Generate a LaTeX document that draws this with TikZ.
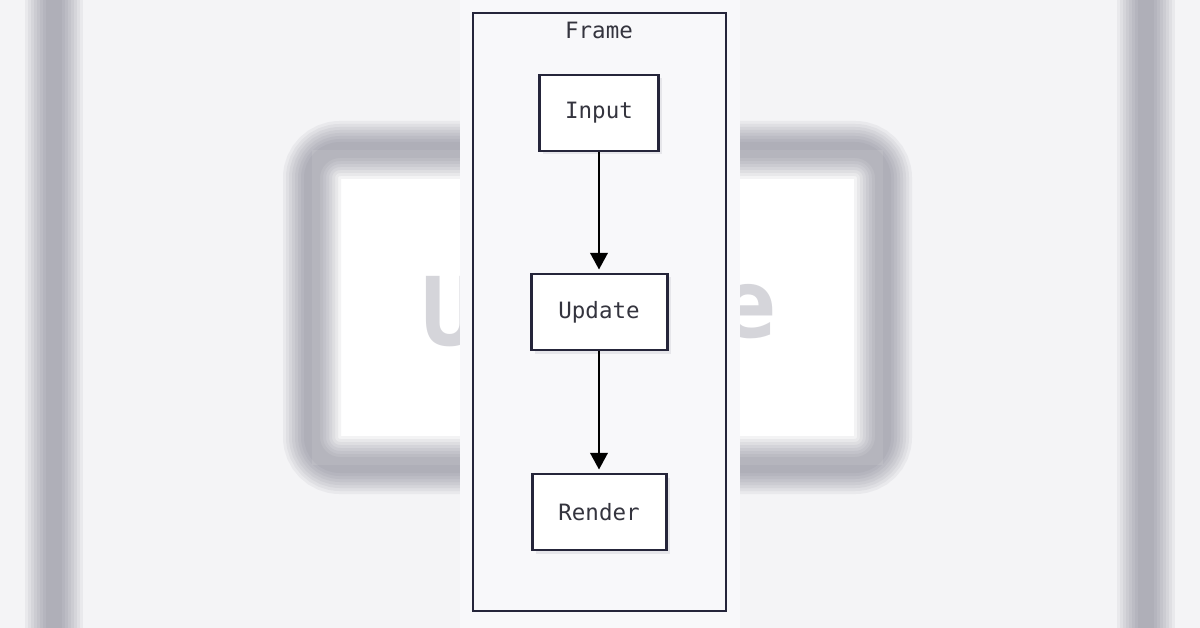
\documentclass[tikz,border=0pt]{standalone}
\usepackage{fontspec}
\setmonofont{DejaVu Sans Mono}
\usetikzlibrary{arrows.meta,shadows}

\definecolor{backc}{HTML}{F4F4F6}
\definecolor{panelc}{HTML}{F8F8FA}
\definecolor{inkc}{HTML}{25253A}
\definecolor{textc}{HTML}{34343E}
\definecolor{hazec}{HTML}{6A6A7C}

\tikzset{
  stage/.style={draw=inkc, line width=1.7pt, fill=white, minimum height=76*0.02cm,
    font=\ttfamily\fontsize{12.8}{15}\selectfont, text=textc,
    drop shadow={shadow xshift=0.07cm, shadow yshift=-0.07cm, fill=hazec, opacity=0.12}},
  flow/.style={-{Triangle[width=10pt,length=9.5pt]}, line width=1.2pt, black, shorten >=3*0.02cm},
  haze/.style={hazec, opacity=0.08},
  hazeletter/.style={hazec, opacity=0.28, font=\ttfamily\bfseries\fontsize{54}{60}\selectfont}
}

\begin{document}
\begin{tikzpicture}[x=0.02cm, y=-0.02cm]
  \useasboundingbox (0,0) rectangle (1200,628);
  \fill[backc] (0,0) rectangle (1200,628);

  % blurred copy behind the panel
  \fill[white] (312,150) rectangle (883,465);
  \foreach \w in {58,52,...,12} {
    \draw[haze, line width=\w*0.02cm] (54,-40) -- (54,670);
    \draw[haze, line width=\w*0.02cm] (1146,-40) -- (1146,670);
    \draw[haze, line width=\w*0.02cm, rounded corners=28*0.02cm] (312,150) rectangle (883,465);
  }
  \node[hazeletter] (bigu) at (450,312) {U};
  \node[hazeletter] (bige) at (748,312) {e};

  % sharp panel
  \fill[panelc] (460,-5) rectangle (740,633);
  \draw[inkc, line width=1.4pt, fill=panelc] (473,13) rectangle (726,611);
  \node[text=textc, font=\ttfamily\fontsize{12.8}{15}\selectfont] (frametitle) at (599,30) {Frame};

  \node[stage, minimum width=119*0.02cm] (input)  at (599,113) {Input};
  \node[stage, minimum width=136*0.02cm] (update) at (599,312) {Update};
  \node[stage, minimum width=134*0.02cm] (render) at (599,512) {Render};

  \draw[flow] (input) -- (update);
  \draw[flow] (update) -- (render);
\end{tikzpicture}
\end{document}
